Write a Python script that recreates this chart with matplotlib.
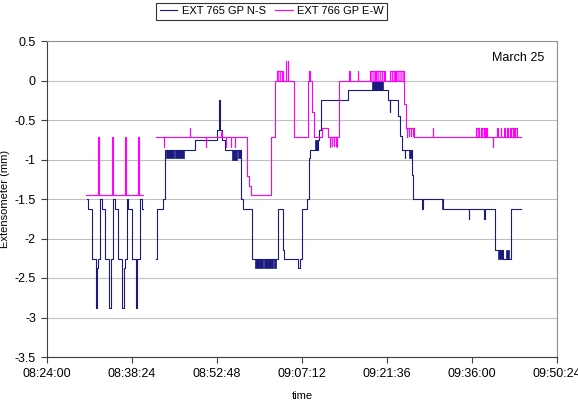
import matplotlib
matplotlib.use("Agg")
import matplotlib.pyplot as plt
from matplotlib.ticker import FuncFormatter
import numpy as np

plt.rcParams["font.family"] = ["Liberation Sans", "DejaVu Sans"]
plt.rcParams["axes.unicode_minus"] = False
plt.rcParams["hatch.linewidth"] = 0.9

# time in minutes after 08:24:00, values in mm (change points, step signal)
ns_t = [6.72, 7.00, 7.57, 8.24, 8.53, 8.65, 8.98, 9.26, 9.83, 10.50, 10.79,
        11.24, 11.52, 12.09, 12.76, 13.05, 13.17, 13.50, 13.78, 14.35, 15.02,
        15.31, 15.76, 16.04, 16.20,
        18.47, 18.60, 19.68, 19.99, 25.07, 28.85, 29.19, 29.35, 29.70, 30.16,
        32.87, 33.26, 34.81, 39.10, 40.03, 40.20, 42.57, 42.86, 43.15, 44.00,
        44.39, 44.60, 45.86, 46.10, 46.42, 50.91, 57.72, 58.10, 58.18, 59.51,
        59.80, 60.10, 60.65, 60.72, 61.89, 62.00, 63.58, 63.65, 67.14, 71.49,
        71.56, 74.08, 74.15, 75.90, 77.20, 78.56, 80.25]
ns_v = [-1.50, -1.63, -2.26, -2.88, -2.37, -2.26, -1.50, -1.63, -2.26, -2.88, -2.26,
        -1.50, -1.63, -2.26, -2.88, -2.37, -2.26, -1.50, -1.63, -2.26, -2.88,
        -2.26, -1.50, -1.63, np.nan,
        -2.26, -1.63, -1.50, -0.88, -0.75, -0.63, -0.25, -0.63, -0.75, -0.88,
        -1.50, -1.63, -2.26, -1.63, -2.14, -2.26, -2.37, -2.26, -1.63, -1.50,
        -0.985, -0.88, -0.75, -0.63, -0.25, -0.12, -0.25, -0.40, -0.25, -0.45,
        -0.70, -0.88, -0.985, -0.88, -1.20, -1.50, -1.63, -1.50, -1.63, -1.75,
        -1.63, -1.75, -1.63, -2.14, -2.26, -1.63, -1.63]

# flicker bands: (start, end, low, high)
ns_bursts = [(20.16, 21.46, -0.985, -0.88), (21.69, 23.26, -0.985, -0.88),
             (31.29, 32.24, -1.0, -0.88), (32.40, 32.87, -0.985, -0.88),
             (35.24, 36.60, -2.37, -2.26), (36.75, 38.30, -2.37, -2.26),
             (38.45, 38.75, -2.37, -2.26), (45.40, 45.86, -0.88, -0.75),
             (55.14, 56.97, -0.12, 0.0), (61.38, 61.78, -0.985, -0.88),
             (66.86, 67.14, -1.63, -1.50), (76.46, 77.20, -2.26, -2.14),
             (77.76, 78.32, -2.26, -2.14)]

ew_t = [6.60, 8.70, 8.87, 10.96, 11.13, 13.22, 13.39, 15.48, 15.65, 16.20,
        18.47, 19.82, 19.88, 24.23, 24.29, 26.94, 27.00, 29.40, 29.70, 30.30,
        30.36, 31.10, 31.16, 31.85, 31.91, 33.83, 33.95, 34.30, 34.55, 37.90,
        38.63, 40.44, 40.50, 40.80, 40.86, 41.90, 44.27, 44.45, 44.60, 44.95,
        45.20, 46.64, 47.66, 49.47, 51.21, 51.27, 52.64, 52.70, 60.48, 60.75,
        62.17, 65.31, 65.37, 75.51, 75.57, 76.29, 76.35, 76.91, 76.97, 77.47,
        77.53, 77.98, 78.04, 80.25]
ew_v = [-1.45, -0.72, -1.45, -0.72, -1.45, -0.72, -1.45, -0.72, -1.45, np.nan,
        -0.72, -0.84, -0.72, -0.605, -0.72, -0.84, -0.72, -0.65, -0.72, -0.84,
        -0.72, -0.84, -0.72, -0.84, -0.72, -0.95, -1.21, -1.335, -1.45, -0.72,
        0.0, 0.25, 0.0, 0.25, 0.0, -0.72, 0.0, 0.124, 0.0, -0.40,
        -0.72, -0.605, -0.72, 0.0, 0.124, 0.0, 0.124, 0.0, -0.30, -0.605,
        -0.72, -0.605, -0.72, -0.846, -0.72, -0.605, -0.72, -0.605, -0.72, -0.605,
        -0.72, -0.605, -0.72, -0.72]

ew_bursts = [(38.90, 40.03, 0.0, 0.124), (47.94, 49.08, -0.846, -0.72),
             (54.72, 55.60, 0.0, 0.124), (55.75, 57.26, 0.0, 0.124),
             (58.11, 59.00, 0.0, 0.124), (59.15, 60.48, 0.0, 0.124),
             (61.04, 62.17, -0.72, -0.605), (72.68, 73.25, -0.72, -0.605),
             (73.48, 74.05, -0.72, -0.605), (74.22, 74.49, -0.72, -0.605),
             (78.44, 78.90, -0.72, -0.605), (79.12, 79.68, -0.72, -0.605)]

ns_color = "#1a1a80"
ew_color = "#ff00ff"

fig = plt.figure(figsize=(5.78, 4.05), dpi=100)
ax = fig.add_axes([47 / 578, 1 - 357 / 405, 510 / 578, 316 / 405])

l1, = ax.plot(ns_t, ns_v, drawstyle="steps-post", color=ns_color, lw=0.8,
              label="EXT 765 GP N-S")
l2, = ax.plot(ew_t, ew_v, drawstyle="steps-post", color=ew_color, lw=0.8,
              label="EXT 766 GP E-W")
for a, b, lo, hi in ns_bursts:
    ax.fill_between([a, b], [lo, lo], [hi, hi], color=ns_color, lw=0.5)
for a, b, lo, hi in ew_bursts:
    ax.fill_between([a, b], [lo, lo], [hi, hi], facecolor="none",
                    edgecolor=ew_color, hatch="||||||||", lw=0)
    ax.plot([a, a, b, b], [lo, hi, hi, lo], color=ew_color, lw=0.8)

# axes
ax.set_xlim(0, 86.4)
ax.set_ylim(-3.5, 0.5)
ax.set_xticks(np.arange(0, 86.5, 14.4))
ax.set_yticks(np.arange(-3.5, 0.51, 0.5))


def clock(m, pos):
    s = int(round((8 * 60 + 24 + m) * 60))
    return "%02d:%02d:%02d" % (s // 3600, (s // 60) % 60, s % 60)


ax.xaxis.set_major_formatter(FuncFormatter(clock))
ax.yaxis.set_major_formatter(FuncFormatter(lambda v, p: "%g" % round(v, 2)))
ax.tick_params(labelsize=9, length=4, width=0.8, color="#404040", pad=4)
ax.yaxis.grid(True, color="#c0c0c0", lw=0.8)
ax.set_axisbelow(True)
for side in ["left", "bottom"]:
    ax.spines[side].set_color("#404040")
for side in ["top", "right"]:
    ax.spines[side].set_color("#909090")

ax.set_xlabel("time", fontsize=8, labelpad=8)
ax.set_ylabel("Extensometer (mm)", fontsize=8)
ax.yaxis.set_label_coords(-37 / 510, 0.5)
ax.text(0.924, 0.946, "March 25", transform=ax.transAxes, fontsize=9,
        ha="center", va="center")

leg = fig.legend(handles=[l1, l2], loc="upper center", bbox_to_anchor=(0.47, 0.993),
                 ncol=2, fontsize=8, frameon=True, fancybox=False, edgecolor="black",
                 handlelength=1.6, columnspacing=0.8, handletextpad=0.4,
                 borderpad=0.3, borderaxespad=0)
leg.get_frame().set_linewidth(0.8)

fig.savefig("out.png", dpi=100)
